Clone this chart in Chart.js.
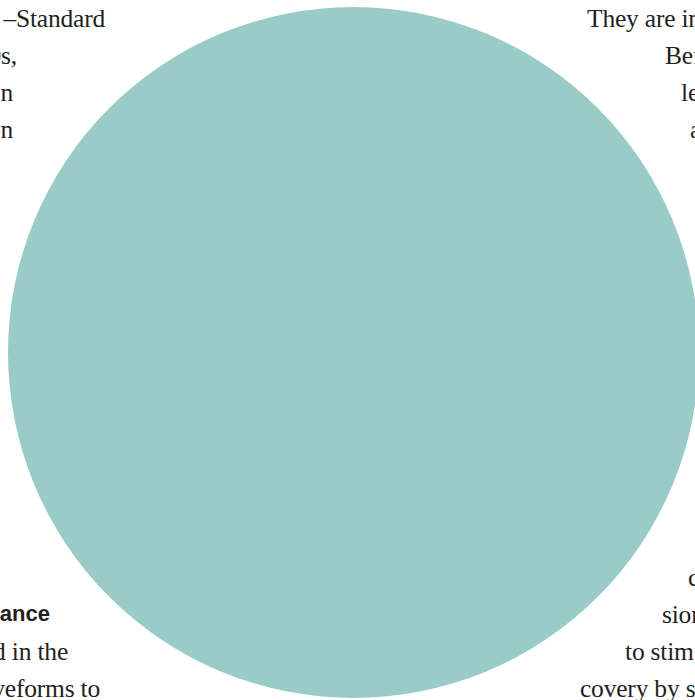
<!DOCTYPE html>
<html lang="en">
<head>
  <meta charset="UTF-8">
  <title>Circle over page</title>
  <script src="https://cdn.jsdelivr.net/npm/chart.js"></script>
  <style>
    html, body { margin: 0; padding: 0; background: #fff; }
    #page { position: relative; width: 695px; height: 700px; overflow: hidden; }
    .t { position: absolute; white-space: nowrap; line-height: 1; color: #231f20;
         font-family: "Liberation Serif", "DejaVu Serif", serif; font-size: 25.5px; letter-spacing: -0.2px; }
    .h { font-family: "Liberation Sans", Arial, sans-serif; font-weight: bold; font-size: 22px; letter-spacing: 0; }
    #pieCanvas { position: absolute; left: 0; top: 0; z-index: 2; }
  </style>
</head>
<body>
  <div id="page">
    <!-- page text behind the circle -->
    <span class="t" style="right:590px; top:6px;">–Standard</span>
    <span class="t" style="right:678px; top:43px;">1990s,</span>
    <span class="t" style="right:682px; top:80px;">in</span>
    <span class="t" style="right:682px; top:117px;">on</span>

    <span class="t" style="left:587px; top:6px;">They are in</span>
    <span class="t" style="left:665px; top:43px;">Before</span>
    <span class="t" style="left:681px; top:80px;">let’s</span>
    <span class="t" style="left:690px; top:117px;">a</span>

    <span class="t h" style="right:645px; top:603px;">ance</span>
    <span class="t" style="right:627px; top:639px;">d in the</span>
    <span class="t" style="right:595px; top:676px;">waveforms to</span>

    <span class="t" style="left:688px; top:565px;">con</span>
    <span class="t" style="left:662px; top:602px;">sion</span>
    <span class="t" style="left:625px; top:639px;">to stim</span>
    <span class="t" style="left:580px; top:676px;">covery by s</span>

    <canvas id="pieCanvas" width="707" height="705"></canvas>
  </div>

  <script>
    const categories = ['Circle'];
    const values = [100];
    const colors = ['#99cbc7'];

    const ctx = document.getElementById('pieCanvas');
    new Chart(ctx, {
      type: 'pie',
      data: {
        labels: categories,
        datasets: [{ data: values, backgroundColor: colors, borderWidth: 0 }]
      },
      options: {
        responsive: false,
        devicePixelRatio: 1,
        animation: false,
        radius: 345.5,
        layout: { padding: 0 },
        plugins: {
          legend: { display: false },
          tooltip: { enabled: false }
        }
      }
    });
  </script>
</body>
</html>
